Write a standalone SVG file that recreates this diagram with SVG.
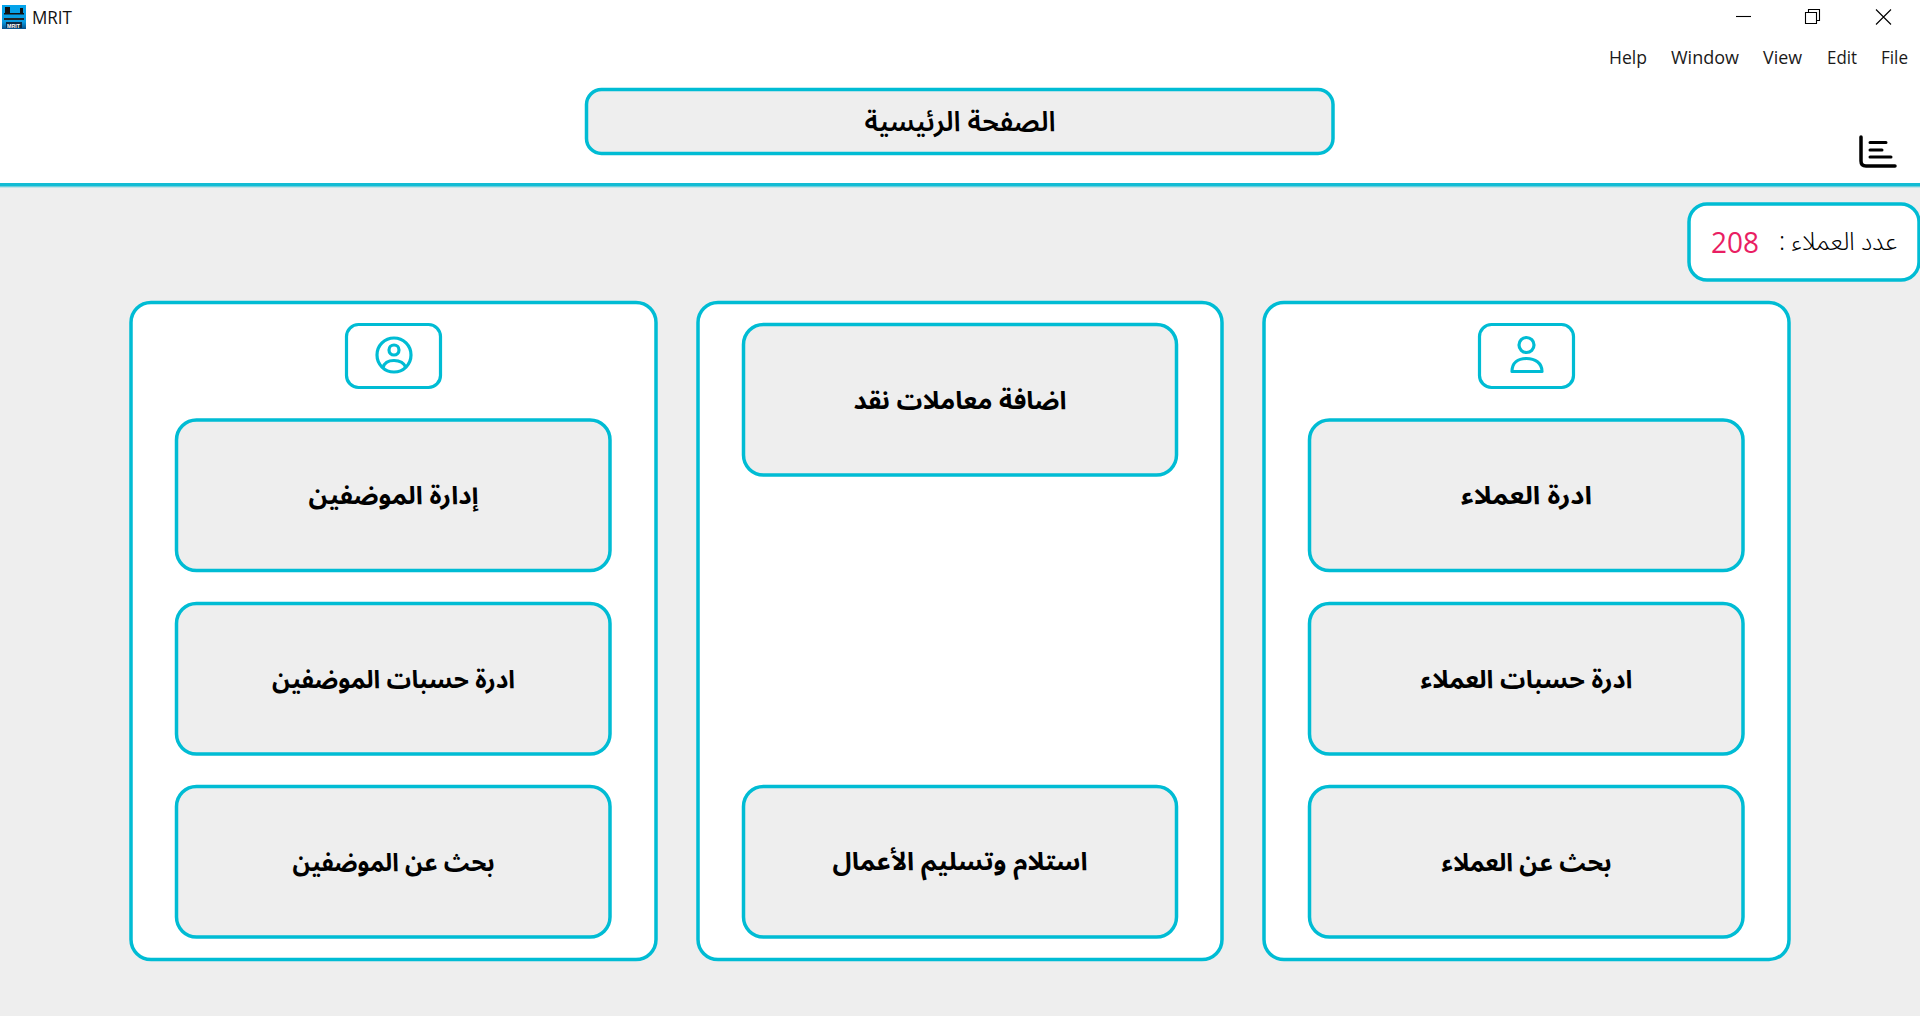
<svg xmlns="http://www.w3.org/2000/svg" width="1920" height="1016" viewBox="0 0 1920 1016">
<defs>
<linearGradient id="shadow" x1="0" y1="0" x2="0" y2="1"><stop offset="0" stop-color="#12bcd4"/><stop offset="0.5" stop-color="#12bcd4"/><stop offset="1" stop-color="#eeeeee"/></linearGradient>
<linearGradient id="appblue" x1="0" y1="0" x2="0" y2="1"><stop offset="0" stop-color="#04a4ec"/><stop offset="0.7" stop-color="#0a9be0"/><stop offset="1" stop-color="#044f8c"/></linearGradient>
</defs>
<style>
.panel{fill:#fff;stroke:#00bcd4;stroke-width:3.5}
.btn{fill:#eeeeee;stroke:#00bcd4;stroke-width:3.5}
.ar{font-family:"Noto Sans Arabic","DejaVu Sans",sans-serif;font-weight:700;font-size:25px;fill:#000;text-anchor:middle;direction:rtl}
.menu{font-family:"Open Sans","Noto Sans",sans-serif;font-size:18px;fill:#1a1a1a}
.ico{fill:none;stroke:#00bcd4;stroke-width:3.200;stroke-linejoin:round}
.win{fill:none;stroke:#000;stroke-width:1.100}
</style>
<rect width="1920" height="1016" fill="#eeeeee"/>
<rect width="1920" height="183" fill="#fff"/>
<rect y="183" width="1920" height="5" fill="url(#shadow)"/>
<g id="titlebar">
<rect x="2" y="5" width="24" height="24" fill="url(#appblue)"/>
<rect x="5" y="7" width="5" height="6" fill="#111"/><rect x="20" y="8" width="3" height="5" fill="#111"/>
<rect x="4" y="13" width="20" height="1.500" fill="#111"/><rect x="4" y="18" width="20" height="2" fill="#222"/>
<rect x="6" y="22" width="16" height="6" fill="#0c2a44"/>
<text x="7" y="27.500" font-family="Liberation Sans,sans-serif" font-weight="700" font-size="6" fill="#fff" textLength="13" lengthAdjust="spacingAndGlyphs">MRIT</text>
<text x="32" y="24" font-family="Open Sans,Noto Sans,sans-serif" font-size="18" fill="#111" textLength="40" lengthAdjust="spacingAndGlyphs">MRIT</text>
<path class="win" d="M1736 16.500H1751"/>
<path class="win" d="M1805.500 12.500h11v11h-11zM1808.500 12.500v-3h11v11h-3"/>
<path class="win" d="M1876 9.500L1891 24.500M1891 9.500L1876 24.500"/>
</g>
<g id="menu">
<text class="menu" x="1609" y="63.500" textLength="38" lengthAdjust="spacingAndGlyphs">Help</text>
<text class="menu" x="1671" y="63.500" textLength="68" lengthAdjust="spacingAndGlyphs">Window</text>
<text class="menu" x="1763" y="63.500" textLength="39" lengthAdjust="spacingAndGlyphs">View</text>
<text class="menu" x="1827" y="63.500" textLength="30" lengthAdjust="spacingAndGlyphs">Edit</text>
<text class="menu" x="1881" y="63.500" textLength="27" lengthAdjust="spacingAndGlyphs">File</text>
</g>
<g id="title"><rect class="btn" x="586.500" y="89.500" width="746.500" height="64" rx="15"/><text class="ar" x="960" y="131" style="font-size:28px;font-weight:600" textLength="191" lengthAdjust="spacingAndGlyphs">الصفحة الرئيسية</text></g>
<g id="chart-icon" fill="none" stroke="#000" stroke-linecap="round"><path d="M1861 137V161Q1861 166 1866 166H1895" stroke-width="3.500"/><path d="M1870 142.500H1886M1870 150H1882M1870 157H1891" stroke-width="3"/></g>
<g id="count"><rect class="panel" x="1689" y="204" width="230" height="76" rx="18"/>
<text x="1711" y="253" font-family="Open Sans,Noto Sans,sans-serif" font-size="29" font-weight="400" fill="#e91e63" textLength="48" lengthAdjust="spacingAndGlyphs">208</text>
<text x="1897" y="250" font-family="Noto Sans Arabic,DejaVu Sans,sans-serif" font-size="25" font-weight="300" text-anchor="start" direction="rtl" fill="#000">عدد العملاء :</text></g>
<g id="panel-left"><rect class="panel" x="131" y="302.500" width="525" height="657" rx="20"/></g>
<g id="panel-middle"><rect class="panel" x="698" y="302.500" width="524" height="657" rx="20"/></g>
<g id="panel-right"><rect class="panel" x="1264" y="302.500" width="525" height="657" rx="20"/></g>
<g id="icon-employee"><rect class="ico" x="346.500" y="324.500" width="94" height="63" rx="12"/><circle class="ico" cx="394" cy="355" r="17"/><circle class="ico" cx="394" cy="350" r="5"/><path class="ico" d="M383 367.500Q385 360.500 394 360.500Q403 360.500 406 367.500"/></g>
<g id="icon-customer"><rect class="ico" x="1479.500" y="324.500" width="94" height="63" rx="12"/><circle class="ico" cx="1526.500" cy="345" r="7.500"/><path class="ico" d="M1512 371.500C1512 363 1518 358.500 1526.500 358.500C1535 358.500 1542 363 1542 371.500Z"/></g>
<g id="btn-l1"><rect class="btn" x="176.500" y="420" width="433.500" height="150.500" rx="20"/><text class="ar" x="393.500" y="504" textLength="170" lengthAdjust="spacingAndGlyphs">إدارة الموضفين</text></g>
<g id="btn-l2"><rect class="btn" x="176.500" y="603.500" width="433.500" height="150.500" rx="20"/><text class="ar" x="393.500" y="688" textLength="243" lengthAdjust="spacingAndGlyphs">ادرة حسبات الموضفين</text></g>
<g id="btn-l3"><rect class="btn" x="176.500" y="786.500" width="433.500" height="150.500" rx="20"/><text class="ar" x="393.500" y="871" textLength="202" lengthAdjust="spacingAndGlyphs">بحث عن الموضفين</text></g>
<g id="btn-m1"><rect class="btn" x="743.500" y="324.500" width="433" height="150.500" rx="20"/><text class="ar" x="960" y="409" textLength="213" lengthAdjust="spacingAndGlyphs">اضافة معاملات نقد</text></g>
<g id="btn-m2"><rect class="btn" x="743.500" y="786.500" width="433" height="150.500" rx="20"/><text class="ar" x="960" y="870" textLength="255" lengthAdjust="spacingAndGlyphs">استلام وتسليم الأعمال</text></g>
<g id="btn-r1"><rect class="btn" x="1309.500" y="420" width="433.500" height="150.500" rx="20"/><text class="ar" x="1526.500" y="504" textLength="131" lengthAdjust="spacingAndGlyphs">ادرة العملاء</text></g>
<g id="btn-r2"><rect class="btn" x="1309.500" y="603.500" width="433.500" height="150.500" rx="20"/><text class="ar" x="1526.500" y="688" textLength="212" lengthAdjust="spacingAndGlyphs">ادرة حسبات العملاء</text></g>
<g id="btn-r3"><rect class="btn" x="1309.500" y="786.500" width="433.500" height="150.500" rx="20"/><text class="ar" x="1526.500" y="871" textLength="170" lengthAdjust="spacingAndGlyphs">بحث عن العملاء</text></g>
<g id="connectors"/>
</svg>
